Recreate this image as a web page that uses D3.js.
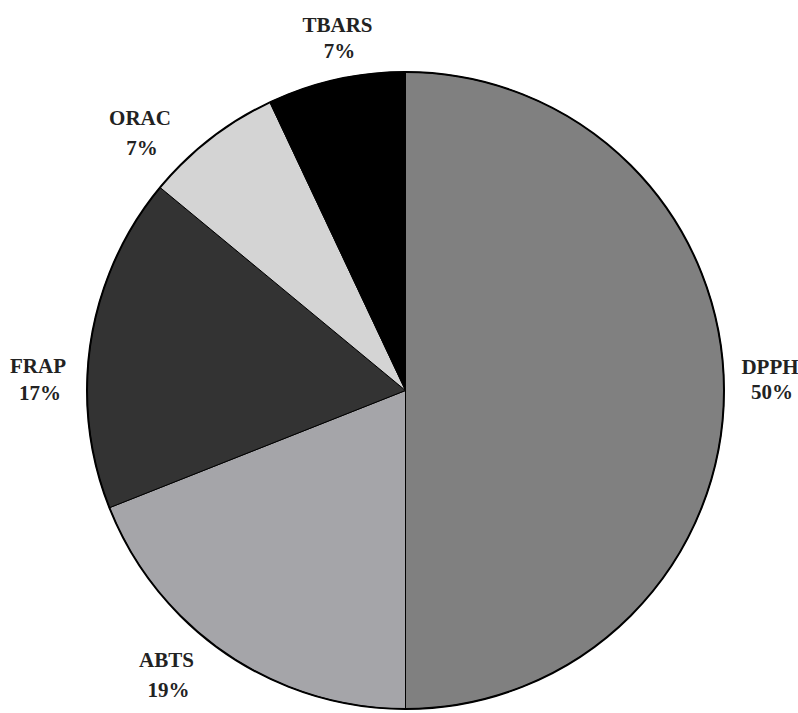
<!DOCTYPE html>
<html><head><meta charset="utf-8">
<script src="https://cdn.jsdelivr.net/npm/d3@7"></script>
<style>body{margin:0;background:#fff}svg{display:block}</style>
</head><body>
<svg id="c" width="798" height="713"></svg>
<script>
const categories = ["DPPH","ABTS","FRAP","ORAC","TBARS"];
const values = [50, 19, 17, 7, 7];
const percentLabels = ["50%","19%","17%","7%","7%"];
const colors = ["#808080","#a5a5a9","#333333","#d4d4d4","#000000"];
// label anchor offsets from pie centre (layout)
const labelOffsets = [[364.5,-16.5],[-239,276.5],[-367.5,-17.5],[-265.5,-265.5],[-68,-358.5]];
const lineGaps = [25,30,27,30,26];

const svg = d3.select("#c");
const cx = 405.5, cy = 390.5, R = 318.5;
const g = svg.append("g").attr("transform",`translate(${cx},${cy})`);
const data = categories.map((c,i)=>({name:c,value:values[i],pct:percentLabels[i],color:colors[i],i}));
const pie = d3.pie().value(d=>d.value).sort(null);
const arc = d3.arc().innerRadius(0).outerRadius(R);
g.selectAll("path.s").data(pie(data)).join("path").attr("class","s")
  .attr("d",arc).attr("fill",d=>d.data.color)
  .attr("stroke","#000").attr("stroke-width",1);
g.append("circle").attr("r",R).attr("fill","none").attr("stroke","#000").attr("stroke-width",2);

const lab = g.selectAll("text.l").data(data).join("text").attr("class","l")
  .attr("text-anchor","middle")
  .attr("font-family","'Liberation Serif','Times New Roman',serif")
  .attr("font-weight","bold").attr("font-size",21).attr("fill","#222");
lab.append("tspan").attr("x",d=>labelOffsets[d.i][0]).attr("y",d=>labelOffsets[d.i][1]).text(d=>d.name);
lab.append("tspan").attr("x",d=>labelOffsets[d.i][0]+2).attr("y",d=>labelOffsets[d.i][1]+lineGaps[d.i]).text(d=>d.pct);
</script>
</body></html>
